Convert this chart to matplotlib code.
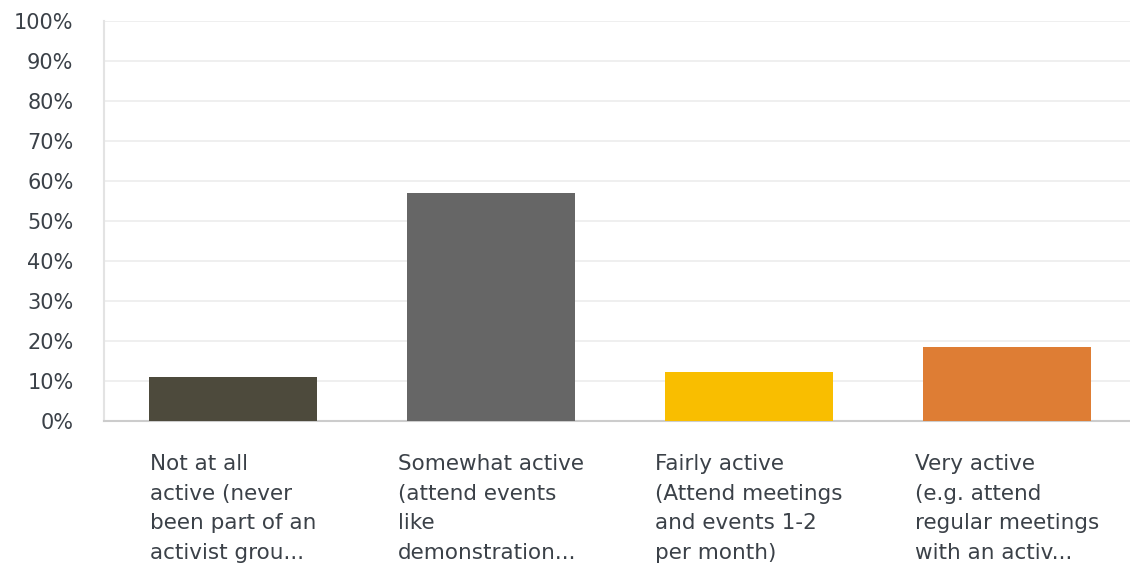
import numpy as np
import matplotlib
matplotlib.use("Agg")
import matplotlib.pyplot as plt
from matplotlib.transforms import blended_transform_factory

# ---- data ----
labels = [
    "Not at all\nactive (never\nbeen part of an\nactivist grou...",
    "Somewhat active\n(attend events\nlike\ndemonstration...",
    "Fairly active\n(Attend meetings\nand events 1-2\nper month)",
    "Very active\n(e.g. attend\nregular meetings\nwith an activ...",
]
values = [11.1, 57.1, 12.2, 18.6]
colors = ["#4d4a3c", "#666666", "#f9be00", "#de7d34"]
yticks = list(range(0, 101, 10))

TEXT = "#3b4148"
FONT = "DejaVu Sans"
W, H = 1130, 570

fig = plt.figure(figsize=(W / 100, H / 100), dpi=100)
ax = fig.add_axes([104 / W, (H - 421) / H, (W - 104) / W, 400 / H])

bar_w = 0.655
x = np.arange(len(values))
ax.bar(x, values, width=bar_w, color=colors, zorder=3)

ax.set_ylim(0, 100)
ax.set_xlim(-0.5, -0.5 + (W - 104) / 258)
ax.set_yticks(yticks)
ax.set_yticklabels([f"{t}%" for t in yticks], fontsize=15, color=TEXT, family=FONT)
ax.tick_params(axis="y", length=0, pad=22)
ax.set_xticks([])
ax.grid(axis="y", color="#ececec", lw=1.2, zorder=0)

for s in ["top", "right"]:
    ax.spines[s].set_visible(False)
ax.spines["left"].set_color("#e3e3e3")
ax.spines["left"].set_linewidth(1.5)
ax.spines["bottom"].set_color("#cccccc")
ax.spines["bottom"].set_linewidth(1.5)

# category labels: block centred under the bar, lines left-aligned
tr = blended_transform_factory(ax.transData, ax.transAxes)
for i, lab in enumerate(labels):
    ax.text(i, -0.083, lab, transform=tr, ha="center", va="top",
            multialignment="left", fontsize=15.5, color=TEXT, family=FONT,
            linespacing=1.6)

fig.savefig("out.png", dpi=100)
